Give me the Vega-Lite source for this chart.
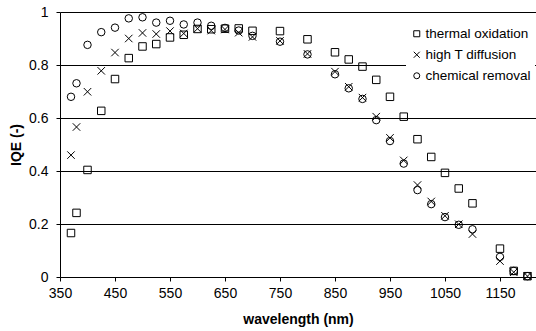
{
  "$schema": "https://vega.github.io/schema/vega-lite/v6.json",
  "width": 476,
  "height": 265,
  "autosize": "none",
  "padding": {"left": 60, "top": 12, "right": 0, "bottom": 54},
  "background": "white",
  "config": {
    "font": "Liberation Sans",
    "view": {"stroke": null},
    "axis": {"labelFont": "Liberation Sans", "titleFont": "Liberation Sans", "labelColor": "black", "titleColor": "black", "labelFontSize": 14, "titleFontSize": 14, "domainColor": "black", "tickColor": "black", "gridColor": "black", "gridWidth": 1, "domainWidth": 1, "tickWidth": 1, "tickSize": 4}
  },
  "datasets": {
    "iqe": [
      {"wavelength": 370, "IQE": 0.166, "process": "thermal oxidation"},
      {"wavelength": 380, "IQE": 0.242, "process": "thermal oxidation"},
      {"wavelength": 400, "IQE": 0.404, "process": "thermal oxidation"},
      {"wavelength": 425, "IQE": 0.627, "process": "thermal oxidation"},
      {"wavelength": 450, "IQE": 0.747, "process": "thermal oxidation"},
      {"wavelength": 475, "IQE": 0.826, "process": "thermal oxidation"},
      {"wavelength": 500, "IQE": 0.870, "process": "thermal oxidation"},
      {"wavelength": 525, "IQE": 0.879, "process": "thermal oxidation"},
      {"wavelength": 550, "IQE": 0.904, "process": "thermal oxidation"},
      {"wavelength": 575, "IQE": 0.914, "process": "thermal oxidation"},
      {"wavelength": 600, "IQE": 0.936, "process": "thermal oxidation"},
      {"wavelength": 625, "IQE": 0.935, "process": "thermal oxidation"},
      {"wavelength": 650, "IQE": 0.937, "process": "thermal oxidation"},
      {"wavelength": 675, "IQE": 0.938, "process": "thermal oxidation"},
      {"wavelength": 700, "IQE": 0.929, "process": "thermal oxidation"},
      {"wavelength": 750, "IQE": 0.928, "process": "thermal oxidation"},
      {"wavelength": 800, "IQE": 0.897, "process": "thermal oxidation"},
      {"wavelength": 850, "IQE": 0.848, "process": "thermal oxidation"},
      {"wavelength": 875, "IQE": 0.821, "process": "thermal oxidation"},
      {"wavelength": 900, "IQE": 0.794, "process": "thermal oxidation"},
      {"wavelength": 925, "IQE": 0.744, "process": "thermal oxidation"},
      {"wavelength": 950, "IQE": 0.680, "process": "thermal oxidation"},
      {"wavelength": 975, "IQE": 0.605, "process": "thermal oxidation"},
      {"wavelength": 1000, "IQE": 0.520, "process": "thermal oxidation"},
      {"wavelength": 1025, "IQE": 0.453, "process": "thermal oxidation"},
      {"wavelength": 1050, "IQE": 0.393, "process": "thermal oxidation"},
      {"wavelength": 1075, "IQE": 0.334, "process": "thermal oxidation"},
      {"wavelength": 1100, "IQE": 0.278, "process": "thermal oxidation"},
      {"wavelength": 1150, "IQE": 0.107, "process": "thermal oxidation"},
      {"wavelength": 1175, "IQE": 0.023, "process": "thermal oxidation"},
      {"wavelength": 1200, "IQE": 0.003, "process": "thermal oxidation"},
      {"wavelength": 370, "IQE": 0.460, "process": "high T diffusion"},
      {"wavelength": 380, "IQE": 0.566, "process": "high T diffusion"},
      {"wavelength": 400, "IQE": 0.699, "process": "high T diffusion"},
      {"wavelength": 425, "IQE": 0.778, "process": "high T diffusion"},
      {"wavelength": 450, "IQE": 0.847, "process": "high T diffusion"},
      {"wavelength": 475, "IQE": 0.900, "process": "high T diffusion"},
      {"wavelength": 500, "IQE": 0.921, "process": "high T diffusion"},
      {"wavelength": 525, "IQE": 0.917, "process": "high T diffusion"},
      {"wavelength": 550, "IQE": 0.928, "process": "high T diffusion"},
      {"wavelength": 575, "IQE": 0.919, "process": "high T diffusion"},
      {"wavelength": 600, "IQE": 0.937, "process": "high T diffusion"},
      {"wavelength": 625, "IQE": 0.930, "process": "high T diffusion"},
      {"wavelength": 650, "IQE": 0.934, "process": "high T diffusion"},
      {"wavelength": 675, "IQE": 0.922, "process": "high T diffusion"},
      {"wavelength": 700, "IQE": 0.906, "process": "high T diffusion"},
      {"wavelength": 750, "IQE": 0.891, "process": "high T diffusion"},
      {"wavelength": 800, "IQE": 0.842, "process": "high T diffusion"},
      {"wavelength": 850, "IQE": 0.775, "process": "high T diffusion"},
      {"wavelength": 875, "IQE": 0.718, "process": "high T diffusion"},
      {"wavelength": 900, "IQE": 0.677, "process": "high T diffusion"},
      {"wavelength": 925, "IQE": 0.605, "process": "high T diffusion"},
      {"wavelength": 950, "IQE": 0.525, "process": "high T diffusion"},
      {"wavelength": 975, "IQE": 0.440, "process": "high T diffusion"},
      {"wavelength": 1000, "IQE": 0.347, "process": "high T diffusion"},
      {"wavelength": 1025, "IQE": 0.285, "process": "high T diffusion"},
      {"wavelength": 1050, "IQE": 0.231, "process": "high T diffusion"},
      {"wavelength": 1075, "IQE": 0.199, "process": "high T diffusion"},
      {"wavelength": 1100, "IQE": 0.162, "process": "high T diffusion"},
      {"wavelength": 1150, "IQE": 0.060, "process": "high T diffusion"},
      {"wavelength": 1175, "IQE": 0.018, "process": "high T diffusion"},
      {"wavelength": 1200, "IQE": 0.003, "process": "high T diffusion"},
      {"wavelength": 370, "IQE": 0.680, "process": "chemical removal"},
      {"wavelength": 380, "IQE": 0.731, "process": "chemical removal"},
      {"wavelength": 400, "IQE": 0.876, "process": "chemical removal"},
      {"wavelength": 425, "IQE": 0.924, "process": "chemical removal"},
      {"wavelength": 450, "IQE": 0.941, "process": "chemical removal"},
      {"wavelength": 475, "IQE": 0.976, "process": "chemical removal"},
      {"wavelength": 500, "IQE": 0.980, "process": "chemical removal"},
      {"wavelength": 525, "IQE": 0.960, "process": "chemical removal"},
      {"wavelength": 550, "IQE": 0.967, "process": "chemical removal"},
      {"wavelength": 575, "IQE": 0.953, "process": "chemical removal"},
      {"wavelength": 600, "IQE": 0.960, "process": "chemical removal"},
      {"wavelength": 625, "IQE": 0.948, "process": "chemical removal"},
      {"wavelength": 650, "IQE": 0.940, "process": "chemical removal"},
      {"wavelength": 675, "IQE": 0.930, "process": "chemical removal"},
      {"wavelength": 700, "IQE": 0.910, "process": "chemical removal"},
      {"wavelength": 750, "IQE": 0.888, "process": "chemical removal"},
      {"wavelength": 800, "IQE": 0.840, "process": "chemical removal"},
      {"wavelength": 850, "IQE": 0.765, "process": "chemical removal"},
      {"wavelength": 875, "IQE": 0.712, "process": "chemical removal"},
      {"wavelength": 900, "IQE": 0.672, "process": "chemical removal"},
      {"wavelength": 925, "IQE": 0.592, "process": "chemical removal"},
      {"wavelength": 950, "IQE": 0.513, "process": "chemical removal"},
      {"wavelength": 975, "IQE": 0.428, "process": "chemical removal"},
      {"wavelength": 1000, "IQE": 0.328, "process": "chemical removal"},
      {"wavelength": 1025, "IQE": 0.275, "process": "chemical removal"},
      {"wavelength": 1050, "IQE": 0.226, "process": "chemical removal"},
      {"wavelength": 1075, "IQE": 0.197, "process": "chemical removal"},
      {"wavelength": 1100, "IQE": 0.180, "process": "chemical removal"},
      {"wavelength": 1150, "IQE": 0.076, "process": "chemical removal"},
      {"wavelength": 1175, "IQE": 0.023, "process": "chemical removal"},
      {"wavelength": 1200, "IQE": 0.003, "process": "chemical removal"}
    ]
  },
  "data": {"name": "iqe"},
  "mark": {"type": "point", "filled": false, "color": "black", "strokeWidth": 1, "opacity": 1, "size": 56},
  "encoding": {
    "x": {
      "field": "wavelength", "type": "quantitative",
      "scale": {"domain": [350, 1215.5], "nice": false, "zero": false},
      "axis": {"title": "wavelength (nm)", "values": [350, 450, 550, 650, 750, 850, 950, 1050, 1150], "format": "d", "grid": false, "labelPadding": 5, "titlePadding": 12, "labelFlush": false, "labelOverlap": false}
    },
    "y": {
      "field": "IQE", "type": "quantitative",
      "scale": {"domain": [0, 1], "nice": false},
      "axis": {"title": "IQE (-)", "values": [0, 0.2, 0.4, 0.6, 0.8, 1], "format": "~g", "grid": true, "labelPadding": 8, "titleX": -40, "titleBaseline": "alphabetic", "labelFlush": false}
    },
    "shape": {
      "field": "process", "type": "nominal",
      "scale": {"domain": ["thermal oxidation", "high T diffusion", "chemical removal"], "range": ["square", "M-1,-1L1,1M-1,1L1,-1", "circle"]},
      "legend": {"title": null, "orient": "none", "legendX": 346, "legendY": 11, "padding": 4, "fillColor": "white", "labelFontSize": 13.5, "labelFont": "Liberation Sans", "labelColor": "black", "symbolSize": 36, "symbolStrokeColor": "black", "symbolStrokeWidth": 1, "labelOffset": 2, "rowPadding": 6}
    }
  }
}
